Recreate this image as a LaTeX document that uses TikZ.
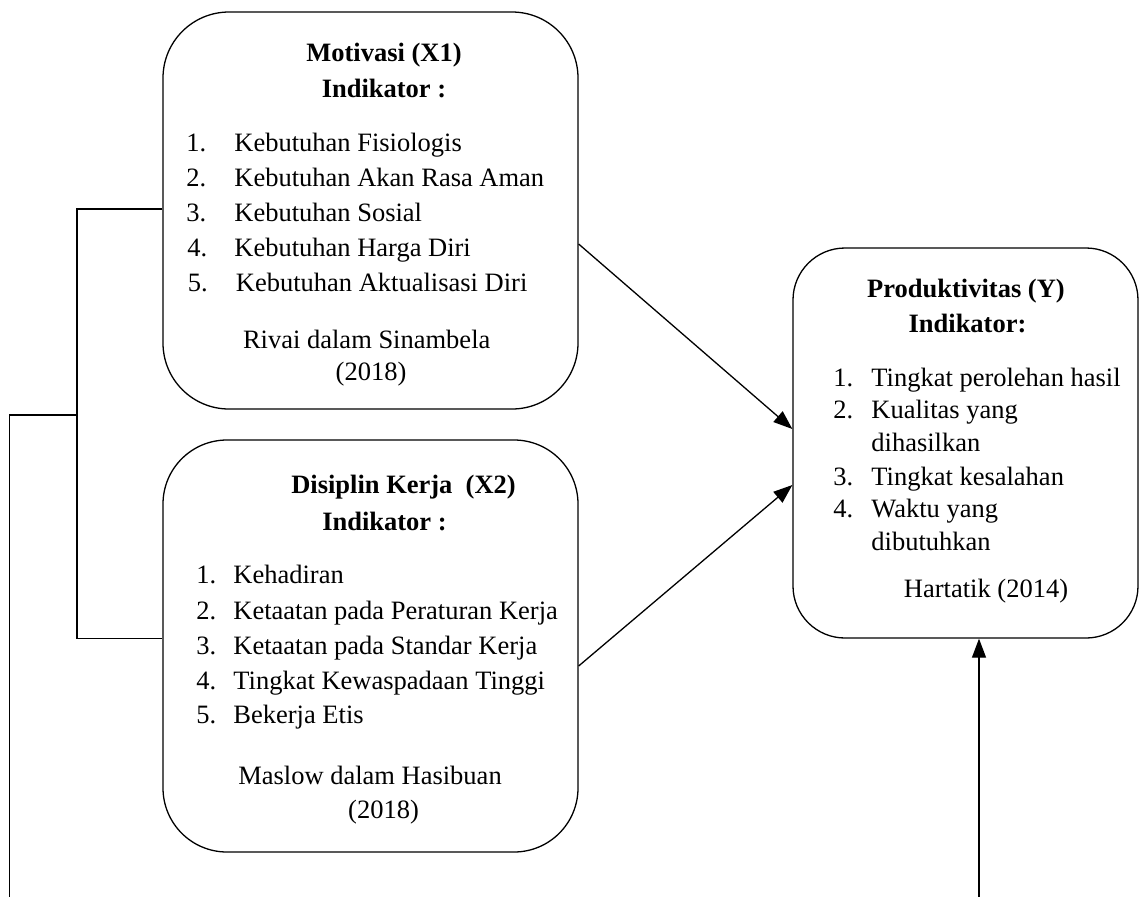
\documentclass[tikz,border=0pt]{standalone}
\usepackage{fontspec}
\setmainfont{Liberation Serif}
\usetikzlibrary{arrows.meta,fit}
\begin{document}
\begin{tikzpicture}[x=0.5pt,y=-0.5pt,
  txt/.style={inner sep=0pt, font=\fontsize{13.25pt}{16pt}\selectfont},
  ttl/.style={inner sep=0pt, anchor=base, font=\fontsize{13.25pt}{16pt}\selectfont\bfseries},
  lft/.style={txt, anchor=base west},
  ctr/.style={txt, anchor=base},
  rbox/.style={draw, inner sep=0pt, line width=0.65pt, rounded corners=#1},
  conn/.style={line width=0.65pt},
  arr/.style={conn, -{Triangle[length=9.5pt,width=7pt]}}]
\useasboundingbox (0,0) rectangle (1141,896);
\clip (0,0) rectangle (1141,896);

% boxes
\node[rbox=33pt, fit={(163,12) (578,409)}] (b1) {};
\node[rbox=32pt, fit={(163,440) (578,852)}] (b2) {};
\node[rbox=26pt, fit={(793,248) (1138,638)}] (b3) {};

% box 1 text
\node[ttl] (t1a) at (384,61.5) {Motivasi (X1)};
\node[ttl] (t1b) at (384,97) {Indikator :};
\node[lft] (n11) at (186,151) {1.};
\node[lft] (i11) at (234,151) {Kebutuhan Fisiologis};
\node[lft] (n12) at (186,186) {2.};
\node[lft] (i12) at (234,186) {Kebutuhan Akan Rasa Aman};
\node[lft] (n13) at (186,221) {3.};
\node[lft] (i13) at (234,221) {Kebutuhan Sosial};
\node[lft] (n14) at (187,256) {4.};
\node[lft] (i14) at (234,256) {Kebutuhan Harga Diri};
\node[lft] (n15) at (187.5,291) {5.};
\node[lft] (i15) at (235.5,291) {Kebutuhan Aktualisasi Diri};
\node[ctr] (c1a) at (366.7,348) {Rivai dalam Sinambela};
\node[ctr] (c1b) at (371,380.5) {(2018)};

% box 2 text
\node[ttl] (t2a) at (403.5,493) {Disiplin Kerja\ \ (X2)};
\node[ttl] (t2b) at (384.5,530) {Indikator :};
\node[lft] (n21) at (196,583) {1.};
\node[lft] (i21) at (233,583) {Kehadiran};
\node[lft] (n22) at (196,619) {2.};
\node[lft] (i22) at (233,619) {Ketaatan pada Peraturan Kerja};
\node[lft] (n23) at (196,654) {3.};
\node[lft] (i23) at (233,654) {Ketaatan pada Standar Kerja};
\node[lft] (n24) at (196,689) {4.};
\node[lft] (i24) at (233,689) {Tingkat Kewaspadaan Tinggi};
\node[lft] (n25) at (196,723.5) {5.};
\node[lft] (i25) at (233,723.5) {Bekerja Etis};
\node[ctr] (c2a) at (370,784.5) {Maslow dalam Hasibuan};
\node[ctr] (c2b) at (383.5,818) {(2018)};

% box 3 text
\node[ttl] (t3a) at (966,297) {Produktivitas (Y)};
\node[ttl] (t3b) at (967.5,332) {Indikator:};
\node[lft] (n31) at (833,386) {1.};
\node[lft] (i31) at (871,386) {Tingkat perolehan hasil};
\node[lft] (n32) at (833,418.5) {2.};
\node[lft] (i32) at (871,418.5) {Kualitas yang};
\node[lft] (i32b) at (871,451) {dihasilkan};
\node[lft] (n33) at (833,485) {3.};
\node[lft] (i33) at (871,485) {Tingkat kesalahan};
\node[lft] (n34) at (833,517.5) {4.};
\node[lft] (i34) at (871,517.5) {Waktu yang};
\node[lft] (i34b) at (871,550) {dibutuhkan};
\node[ctr] (c3) at (986,597) {Hartatik (2014)};

% connectors
\coordinate (j1) at (77,209);
\coordinate (j2) at (77,638.5);
\coordinate (j3) at (77,415);
\coordinate (j4) at (9.5,415);
\coordinate (j5) at (9.5,930);
\coordinate (j6) at (979,930);
\coordinate (a1s) at (0,244);
\coordinate (a1e) at (0,429);
\coordinate (a2s) at (0,666);
\coordinate (a2e) at (0,485);

\draw[conn] (b1.west |- j1) -- (j1) -- (j2) -- (b2.west |- j2);
\draw[arr] (j3) -- (j4) -- (j5) -- (j6) -- (b3.south -| j6);
\draw[arr] (b1.east |- a1s) -- (b3.west |- a1e);
\draw[arr] (b2.east |- a2s) -- (b3.west |- a2e);
\end{tikzpicture}
\end{document}
